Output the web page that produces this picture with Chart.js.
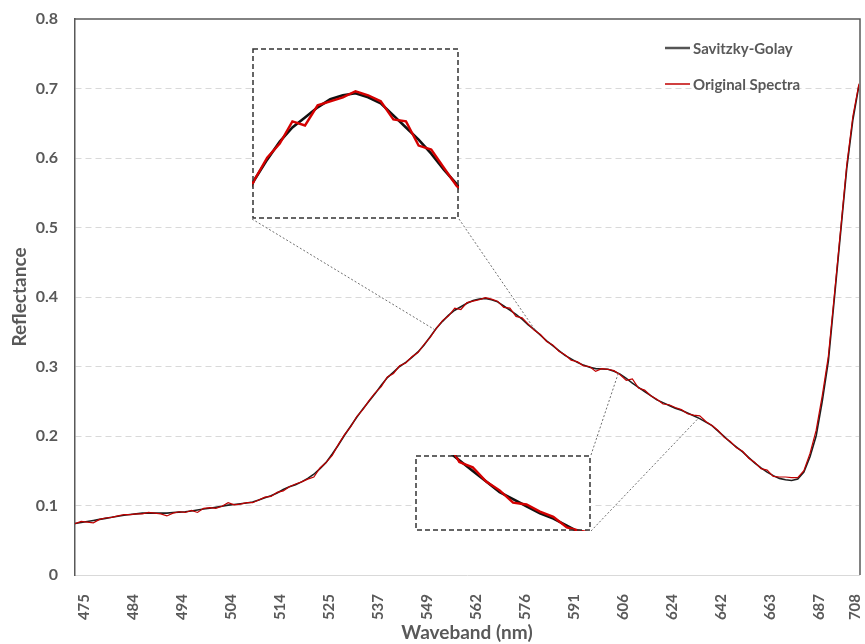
<!DOCTYPE html>
<html>
<head>
<meta charset="utf-8">
<script src="https://cdn.jsdelivr.net/npm/chart.js@4.4.0/dist/chart.umd.min.js"></script>
<style>
    html, body { margin: 0; padding: 0; background: #fff; }
    #wrap { position: relative; width: 865px; height: 644px; }
    #wrap canvas { position: absolute; }
</style>
</head>
<body>
<div id="wrap">
    <canvas id="mainChart" width="865" height="644" style="left:0;top:0"></canvas>
    <canvas id="zoomPeak" width="207" height="171" style="left:252px;top:48px"></canvas>
    <canvas id="zoomSlope" width="176" height="76" style="left:415px;top:455px"></canvas>
</div>
<script>
//============================================= Data =============================================//
const tickLabels = ['475', '484', '494', '504', '514', '525', '537', '549', '562', '576', '591', '606', '624', '642', '663', '687', '708'];
const bandsPerTick = 8;

const savitzkyGolay = [
    0.074, 0.0755, 0.077, 0.0785, 0.080, 0.0815, 0.083, 0.0845,
    0.086, 0.087, 0.088, 0.089, 0.089, 0.089, 0.089, 0.089,
    0.090, 0.0905, 0.091, 0.092, 0.0935, 0.095, 0.096, 0.0975,
    0.099, 0.1005, 0.1015, 0.1025, 0.1035, 0.105, 0.108, 0.111,
    0.114, 0.118, 0.123, 0.127, 0.130, 0.134, 0.139, 0.145,
    0.153, 0.162, 0.174, 0.187, 0.201, 0.214, 0.227, 0.239,
    0.250, 0.261, 0.273, 0.284, 0.292, 0.300, 0.306, 0.313,
    0.321, 0.331, 0.343, 0.355, 0.365, 0.374, 0.381, 0.386,
    0.391, 0.395, 0.397, 0.398, 0.396, 0.393, 0.387, 0.381,
    0.375, 0.368, 0.360, 0.353, 0.345, 0.337, 0.330, 0.323,
    0.316, 0.311, 0.306, 0.302, 0.299, 0.297, 0.2965, 0.296,
    0.293, 0.289, 0.283, 0.276, 0.270, 0.264, 0.258, 0.252,
    0.248, 0.244, 0.240, 0.237, 0.233, 0.229, 0.225, 0.220,
    0.215, 0.207, 0.199, 0.191, 0.184, 0.177, 0.169, 0.161,
    0.154, 0.148, 0.143, 0.139, 0.137, 0.136, 0.138, 0.148,
    0.170, 0.200, 0.250, 0.308, 0.400, 0.493, 0.585, 0.655,
    0.705
];

const originalSpectra = [
    0.074, 0.077, 0.076, 0.075, 0.080, 0.082, 0.083, 0.085,
    0.087, 0.087, 0.088, 0.088, 0.090, 0.089, 0.088, 0.085,
    0.089, 0.091, 0.090, 0.093, 0.090, 0.096, 0.097, 0.096,
    0.099, 0.104, 0.101, 0.102, 0.104, 0.104, 0.108, 0.112,
    0.113, 0.119, 0.121, 0.127, 0.131, 0.134, 0.138, 0.141,
    0.154, 0.162, 0.172, 0.188, 0.202, 0.213, 0.228, 0.238,
    0.251, 0.262, 0.271, 0.285, 0.290, 0.301, 0.305, 0.314,
    0.320, 0.332, 0.342, 0.355, 0.366, 0.373, 0.384, 0.382,
    0.392, 0.394, 0.396, 0.399, 0.397, 0.394, 0.385, 0.384,
    0.372, 0.370, 0.361, 0.352, 0.346, 0.336, 0.331, 0.322,
    0.317, 0.309, 0.307, 0.301, 0.300, 0.293, 0.297, 0.296,
    0.294, 0.288, 0.280, 0.282, 0.269, 0.266, 0.258, 0.253,
    0.246, 0.245, 0.241, 0.238, 0.232, 0.230, 0.229, 0.221,
    0.215, 0.208, 0.198, 0.192, 0.183, 0.178, 0.168, 0.162,
    0.153, 0.151, 0.142, 0.141, 0.141, 0.140, 0.140, 0.150,
    0.175, 0.208, 0.258, 0.315, 0.405, 0.497, 0.590, 0.660,
    0.707
];

//============================================= Styles =============================================//
const FONT = 'Lato, "Open Sans", sans-serif';
const TEXT = '#595959';
const SG_COLOR = '#1f1f1f';
const OS_COLOR = '#c00000';
const LABEL_SHIFT = 1.5;   // excel draws the rotated labels a bit right of the band

// zoom boxes (pixel box on the page + band/value window they magnify)
const peakBox = { left: 252, top: 48, width: 207, height: 171, xMin: 58.8, xMax: 75.2, yMin: 0.3355, yMax: 0.4205 };
const slopeBox = { left: 415, top: 455, width: 176, height: 76, xMin: 88.7, xMax: 101.8, yMin: 0.230, yMax: 0.273 };

const toPoints = arr => arr.map((v, i) => ({ x: i, y: v }));

function valueAt(arr, x) {
    const i = Math.floor(x);
    const t = x - i;
    if (i >= arr.length - 1) return arr[arr.length - 1];
    return arr[i] * (1 - t) + arr[i + 1] * t;
}

//============================================= Main chart plugins =============================================//
const frame = {
    id: 'frame',
    beforeDatasetsDraw(chart) {
        const { ctx, chartArea: a } = chart;
        ctx.save();
        ctx.strokeStyle = TEXT;
        ctx.lineWidth = 1.5;
        ctx.beginPath();
        ctx.moveTo(a.left, a.top);
        ctx.lineTo(a.right + 1, a.top);
        ctx.lineTo(a.right + 1, a.bottom);
        ctx.stroke();
        ctx.restore();
    }
};

const connectors = {
    id: 'connectors',
    afterDraw(chart) {
        const { ctx, scales: { x, y } } = chart;
        const target = xv => [x.getPixelForValue(xv), y.getPixelForValue(valueAt(savitzkyGolay, xv))];
        const lines = [
            [[peakBox.left, peakBox.top + peakBox.height], target(peakBox.xMin)],
            [[peakBox.left + peakBox.width, peakBox.top + peakBox.height], target(peakBox.xMax)],
            [[slopeBox.left + slopeBox.width, slopeBox.top], target(slopeBox.xMin)],
            [[slopeBox.left + slopeBox.width, slopeBox.top + slopeBox.height], target(slopeBox.xMax)]
        ];
        ctx.save();
        ctx.strokeStyle = '#6f6f6f';
        ctx.lineWidth = 1;
        ctx.setLineDash([2, 2]);
        lines.forEach(([p, q]) => {
            ctx.beginPath();
            ctx.moveTo(p[0], p[1]);
            ctx.lineTo(q[0], q[1]);
            ctx.stroke();
        });
        ctx.restore();
    }
};

const insideLegend = {
    id: 'insideLegend',
    afterDraw(chart) {
        const { ctx } = chart;
        const items = [
            { text: 'Savitzky-Golay', color: '#555555', width: 2.5, y: 48 },
            { text: 'Original Spectra', color: OS_COLOR, width: 1.5, y: 84 }
        ];
        ctx.save();
        ctx.font = 'bold 15px ' + FONT;
        ctx.fillStyle = TEXT;
        ctx.textBaseline = 'middle';
        items.forEach(item => {
            ctx.strokeStyle = item.color;
            ctx.lineWidth = item.width;
            ctx.beginPath();
            ctx.moveTo(665, item.y);
            ctx.lineTo(690, item.y);
            ctx.stroke();
            ctx.fillText(item.text, 693, item.y + 1);
        });
        ctx.restore();
    }
};

//============================================= Main chart =============================================//
const lastBand = (tickLabels.length - 1) * bandsPerTick;

new Chart(document.getElementById('mainChart'), {
    type: 'line',
    data: {
        datasets: [
            {
                label: 'Savitzky-Golay',
                data: toPoints(savitzkyGolay),
                borderColor: SG_COLOR,
                borderWidth: 1.6,
                pointRadius: 0,
                tension: 0,
                order: 2
            },
            {
                label: 'Original Spectra',
                data: toPoints(originalSpectra),
                borderColor: OS_COLOR,
                borderWidth: 1.2,
                pointRadius: 0,
                tension: 0,
                order: 1
            }
        ]
    },
    options: {
        responsive: false,
        animation: false,
        events: [],
        layout: { padding: { top: 19, right: 6, left: 0, bottom: 0 } },
        plugins: {
            legend: { display: false },
            tooltip: { enabled: false }
        },
        scales: {
            x: {
                type: 'linear',
                min: 0,
                max: lastBand,
                grid: { display: false },
                border: { color: '#d9d9d9', width: 1 },
                afterBuildTicks: s => {
                    s.ticks = tickLabels.map((t, k) => ({ value: Math.min(k * bandsPerTick + LABEL_SHIFT, lastBand - 0.65) }));
                },
                ticks: {
                    autoSkip: false,
                    minRotation: 90,
                    maxRotation: 90,
                    padding: 11,
                    color: TEXT,
                    font: { family: FONT, size: 15, weight: 'bold' },
                    callback: (v, i) => tickLabels[i]
                },
                title: {
                    display: true,
                    text: 'Waveband (nm)',
                    color: TEXT,
                    font: { family: FONT, size: 19, weight: 'bold' },
                    padding: { top: 0, bottom: 0 }
                },
                afterFit: s => {
                    s.height = 69;
                    s.paddingLeft = 0;
                    s.paddingRight = 0;
                }
            },
            y: {
                min: 0,
                max: 0.8,
                grid: {
                    drawTicks: false,
                    color: c => (c.tick.value <= 0 || c.tick.value >= 0.8) ? 'rgba(0,0,0,0)' : '#d9d9d9'
                },
                border: { color: TEXT, width: 1.5, dash: [6, 4] },
                ticks: {
                    stepSize: 0.1,
                    padding: 17,
                    color: TEXT,
                    font: { family: FONT, size: 16, weight: 'bold' }
                },
                title: {
                    display: true,
                    text: 'Reflectance',
                    color: TEXT,
                    font: { family: FONT, size: 19, weight: 'bold' },
                    padding: { top: 8, bottom: 0 }
                },
                afterFit: s => {
                    s.width = 75;
                    s.paddingTop = 0;
                    s.paddingBottom = 0;
                }
            }
        }
    },
    plugins: [frame, connectors, insideLegend]
});

//============================================= Zoom insets =============================================//
const dashedBox = {
    id: 'dashedBox',
    beforeDraw(chart) {
        const { ctx, width, height } = chart;
        ctx.save();
        ctx.fillStyle = '#fff';
        ctx.fillRect(0, 0, width, height);
        ctx.restore();
    },
    afterDraw(chart) {
        const { ctx, width, height } = chart;
        ctx.save();
        ctx.strokeStyle = '#333';
        ctx.lineWidth = 1.5;
        ctx.setLineDash([5, 3]);
        ctx.strokeRect(1, 1, width - 2, height - 2);
        ctx.restore();
    }
};

function zoomChart(id, box) {
    return new Chart(document.getElementById(id), {
        type: 'line',
        data: {
            datasets: [
                { data: toPoints(savitzkyGolay), borderColor: '#111', borderWidth: 2.6, pointRadius: 0, order: 2 },
                { data: toPoints(originalSpectra), borderColor: '#d40000', borderWidth: 2.4, pointRadius: 0, order: 1 }
            ]
        },
        options: {
            responsive: false,
            animation: false,
            events: [],
            layout: { padding: 0 },
            plugins: {
                legend: { display: false },
                tooltip: { enabled: false }
            },
            scales: {
                x: { type: 'linear', display: false, min: box.xMin, max: box.xMax },
                y: { display: false, min: box.yMin, max: box.yMax }
            }
        },
        plugins: [dashedBox]
    });
}

zoomChart('zoomPeak', peakBox);
zoomChart('zoomSlope', slopeBox);
</script>
</body>
</html>
